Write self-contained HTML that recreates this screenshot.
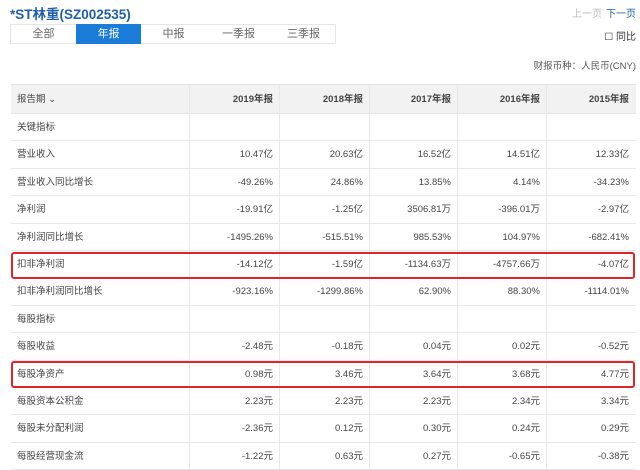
<!DOCTYPE html>
<html><head><meta charset="utf-8"><style>
body{margin:0;width:640px;height:468px;overflow:hidden;background:#fff;font-family:"Liberation Sans","Noto Sans CJK SC",sans-serif;color:#444;position:relative}
.a{position:absolute}
.title{left:10px;top:3px;font-size:13.5px;font-weight:bold;color:#1f5fa8}
.tabs{left:10px;top:24px;width:326px;height:20px;border:1px solid #e6e6e6;box-sizing:border-box}
.tab{top:24px;height:20px;line-height:20px;font-size:11px;color:#666;text-align:center;width:65px}
.tab.on{background:#1a7bd8;color:#fff}
.row{left:11px;width:625px;height:27.4px;border-bottom:1px solid #e8e8e8;box-sizing:border-box;font-size:9.5px;line-height:27px}
.c{position:absolute;top:0;height:100%;border-left:1px solid #e8e8e8;box-sizing:border-box;text-align:right;padding-right:6px}
.l{position:absolute;left:6px;top:0}
.hd{background:#f2f2f2;height:30px;line-height:30px;border-top:1px solid #e3e3e3;font-weight:bold}
.box{left:11px;width:624px;height:27px;border:2px solid #e0242a;border-radius:3px;box-sizing:border-box}
</style></head><body>
<div class="a title">*ST林重(SZ002535)</div>
<div class="a" style="right:38px;top:5px;font-size:10px;color:#bbb">上一页</div>
<div class="a" style="right:4px;top:5px;font-size:10px;color:#1f5fa8">下一页</div>
<div class="a" style="right:4px;top:28px;font-size:10px;color:#333">☐ 同比</div>
<div class="a tabs"></div>
<div class="a tab" style="left:11px">全部</div>
<div class="a tab on" style="left:76px">年报</div>
<div class="a tab" style="left:141px">中报</div>
<div class="a tab" style="left:206px">一季报</div>
<div class="a tab" style="left:271px">三季报</div>
<div class="a" style="right:4px;top:58px;font-size:9.5px;color:#555">财报币种：人民币(CNY)</div>
<div id="t"></div>
<script>
var rows=[["hd","报告期 ⌄","2019年报","2018年报","2017年报","2016年报","2015年报"],
["b","关键指标","","","","",""],
["","营业收入","10.47亿","20.63亿","16.52亿","14.51亿","12.33亿"],
["","营业收入同比增长","-49.26%","24.86%","13.85%","4.14%","-34.23%"],
["","净利润","-19.91亿","-1.25亿","3506.81万","-396.01万","-2.97亿"],
["","净利润同比增长","-1495.26%","-515.51%","985.53%","104.97%","-682.41%"],
["","扣非净利润","-14.12亿","-1.59亿","-1134.63万","-4757.66万","-4.07亿"],
["","扣非净利润同比增长","-923.16%","-1299.86%","62.90%","88.30%","-1114.01%"],
["b","每股指标","","","","",""],
["","每股收益","-2.48元","-0.18元","0.04元","0.02元","-0.52元"],
["","每股净资产","0.98元","3.46元","3.64元","3.68元","4.77元"],
["","每股资本公积金","2.23元","2.23元","2.23元","2.34元","3.34元"],
["","每股未分配利润","-2.36元","0.12元","0.30元","0.24元","0.29元"],
["","每股经营现金流","-1.22元","0.63元","0.27元","-0.65元","-0.38元"]];
var xs=[178,268,358,446,535,624],h="";
rows.forEach(function(r,i){var top=i==0?84:114+27.4*(i-1);
var cls=i==0?"row hd":"row";
h+='<div class="a '+cls+'" style="top:'+top+'px;"><span class="l"'+(i==0?' style="font-weight:normal"':'')+'>'+r[1]+'</span>';
for(var j=0;j<5;j++){h+='<div class="c" style="left:'+xs[j]+'px;width:'+(xs[j+1]-xs[j])+'px">'+r[j+2]+'</div>';}
h+='</div>';});
h+='<div class="a box" style="top:252px"></div><div class="a box" style="top:361px"></div>';
document.getElementById("t").innerHTML=h;
</script>
</body></html>
